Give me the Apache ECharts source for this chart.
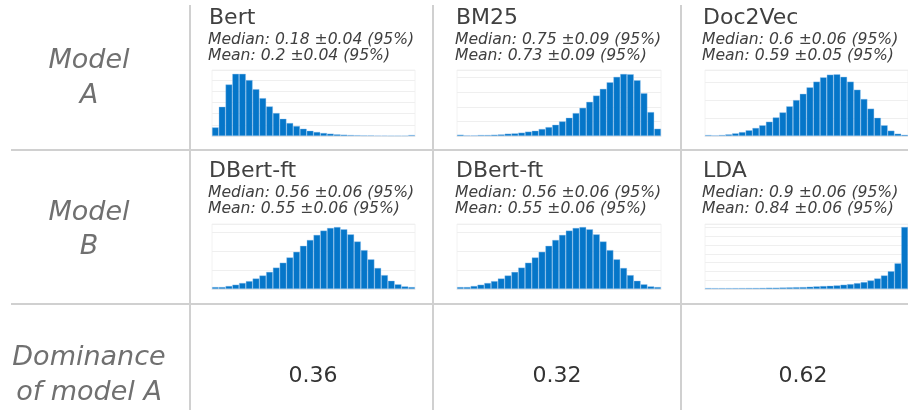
<!DOCTYPE html>
<html>
<head>
<meta charset="utf-8">
<script src="https://cdn.jsdelivr.net/npm/echarts@6/dist/echarts.min.js"></script>
<style>html,body{margin:0;padding:0;background:#fff}#c{width:908px;height:410px}</style>
</head>
<body>
<div id="c"></div>
<script>
// ---- data (bin counts, relative units) ----
const bins = ['1','2','3','4','5','6','7','8','9','10','11','12','13','14','15','16','17','18','19','20','21','22','23','24','25','26','27','28','29','30'];
const bert    = [7.7,26.1,46,55.5,55.5,49.9,41.8,33.8,26.4,20.5,15.4,11.6,8.9,6.5,4.7,3.6,2.7,2.1,1.5,1.2,0.9,0.75,0.6,0.6,0.45,0.45,0.3,0.3,0.3,0.9];
const bm25    = [0.9,0.45,0.45,0.7,0.7,0.9,1.1,1.6,1.8,2.3,3,3.6,4.8,6.1,7.7,10,12.5,15.7,19.3,23.4,27.7,32.3,36.8,40.5,42.5,42.3,38.2,29.3,16.4,5];
const doc2vec = [0.56,0.37,0.56,0.93,1.5,2.2,3.2,4.5,6,8,10.4,13.2,16.6,20.1,23.6,27.2,30.4,32.8,34.3,34.5,33.1,30.4,25.9,20.7,15.3,10.2,6,3,1.3,0.7];
const dbertft = [1.05,1.05,1.6,2.3,3.2,4.2,5.6,7.2,9.1,11.4,14,16.8,19.8,23,26.1,28.8,31.1,32.5,33,31.8,29.1,25.3,20.7,15.8,11.2,7.4,4.4,2.5,1.4,1.05];
const lda     = [1.1,1,1,1,1.05,1.1,1.15,1.2,1.3,1.5,1.5,1.7,1.9,2.1,2.2,2.6,3,3.4,3.7,4.1,4.9,5.6,6.7,7.9,9.7,12,15.4,20.2,29.2,70.4];

const modelA = ['Bert','BM25','Doc2Vec'];
const modelB = ['DBert-ft','DBert-ft','LDA'];
const medianA = ['0.18 ±0.04','0.75 ±0.09','0.6 ±0.06'];
const meanA   = ['0.2 ±0.04','0.73 ±0.09','0.59 ±0.05'];
const medianB = ['0.56 ±0.06','0.56 ±0.06','0.9 ±0.06'];
const meanB   = ['0.55 ±0.06','0.55 ±0.06','0.84 ±0.06'];
const dominance = ['0.36','0.32','0.62'];
const rowLabels = ['Model\nA','Model\nB','Dominance\nof model A'];

const panelData = [bert, bm25, doc2vec, dbertft, dbertft, lda];
const panelMax  = [58.9, 45.2, 36.9, 34.6, 34.6, 73.8];

// ---- layout ----
const colLeft = [212, 457, 705];
const colWidth = [203, 204, 203];
const rowTop = [70, 224];
const rowHeight = [66, 65];
const textX = [209, 456, 703];
const colCenter = [313, 557, 803];

const grids = [], xAxes = [], yAxes = [], series = [];
for (let i = 0; i < 6; i++) {
  const r = Math.floor(i / 3), c = i % 3;
  grids.push({left: colLeft[c], top: rowTop[r], width: colWidth[c], height: rowHeight[r],
    show: true, borderColor: '#f2f2f2', borderWidth: 1, backgroundColor: 'transparent', containLabel: false});
  xAxes.push({type: 'category', gridIndex: i, data: bins, boundaryGap: true,
    axisLine: {show: true, lineStyle: {color: '#e8e8e8'}}, axisTick: {show: false}, axisLabel: {show: false}, splitLine: {show: false}});
  yAxes.push({type: 'value', gridIndex: i, min: 0, max: panelMax[i], interval: 10,
    axisLine: {show: false}, axisTick: {show: false}, axisLabel: {show: false},
    splitLine: {show: true, lineStyle: {color: '#efefef', width: 1}}});
  series.push({type: 'bar', xAxisIndex: i, yAxisIndex: i, data: panelData[i], barWidth: '100%', barCategoryGap: '0%', barGap: '0%',
    itemStyle: {color: '#0576c9', borderColor: 'rgba(150,195,238,0.75)', borderWidth: 0.5}, silent: true});
}

const graphic = [];
const LC = '#d0d0d0';
// horizontal separators
[150, 304].forEach(y => graphic.push({type: 'line', shape: {x1: 11, y1: y, x2: 908, y2: y}, style: {stroke: LC, lineWidth: 2}, silent: true}));
// vertical separators
[190, 433, 681].forEach(x => graphic.push({type: 'line', shape: {x1: x, y1: 5, x2: x, y2: 410}, style: {stroke: LC, lineWidth: 2}, silent: true}));

function txt(x, y, text, size, color, italic, align) {
  graphic.push({type: 'text', x: x, y: y, silent: true,
    style: {text: text, fontFamily: 'DejaVu Sans', fontSize: size, fontStyle: italic ? 'italic' : 'normal',
      fill: color, align: align || 'left', verticalAlign: 'middle', lineHeight: size}});
}
// row labels
const rowLabelY = [[61, 96], [213, 247], [358, 393]];
rowLabels.forEach((lab, r) => {
  const parts = lab.split('\n');
  txt(89, rowLabelY[r][0], parts[0], 27, '#707070', true, 'center');
  txt(89, rowLabelY[r][1], parts[1], 27, '#707070', true, 'center');
});
// panel titles
for (let c = 0; c < 3; c++) {
  txt(textX[c], 18.5, modelA[c], 22, '#404040', false);
  txt(textX[c] - 1, 40, 'Median: ' + medianA[c] + ' (95%)', 15.6, '#404040', true);
  txt(textX[c] - 1, 55.5, 'Mean: ' + meanA[c] + ' (95%)', 15.6, '#404040', true);
  txt(textX[c], 171.5, modelB[c], 22, '#404040', false);
  txt(textX[c] - 1, 193, 'Median: ' + medianB[c] + ' (95%)', 15.6, '#404040', true);
  txt(textX[c] - 1, 208.5, 'Mean: ' + meanB[c] + ' (95%)', 15.6, '#404040', true);
  txt(colCenter[c], 376, dominance[c], 22, '#333333', false, 'center');
}

const chart = echarts.init(document.getElementById('c'), null, {renderer: 'canvas'});
chart.setOption({animation: false, backgroundColor: '#ffffff', grid: grids, xAxis: xAxes, yAxis: yAxes, series: series, graphic: graphic});
</script>
</body>
</html>
